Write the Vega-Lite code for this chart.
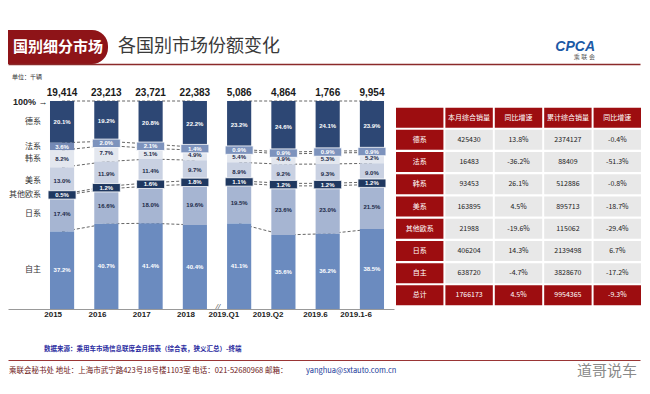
{
  "$schema": "https://vega.github.io/schema/vega-lite/v6.json",
  "background": "white",
  "padding": {"left": 8, "top": 30, "right": 9, "bottom": 0},
  "bounds": "flush",
  "spacing": 37,
  "config": {"font": "Liberation Sans, Noto Sans CJK SC", "view": {"stroke": null}},
  "datasets": {
    "header": [
      {"part": "tag", "text": "国别细分市场"},
      {"part": "title", "text": "各国别市场份额变化"}
    ],
    "shares": [
      {"period": "2015", "grp": "年度", "country": "德系", "rank": 7, "share": 0.201},
      {"period": "2015", "grp": "年度", "country": "法系", "rank": 6, "share": 0.036},
      {"period": "2015", "grp": "年度", "country": "韩系", "rank": 5, "share": 0.082},
      {"period": "2015", "grp": "年度", "country": "美系", "rank": 4, "share": 0.130},
      {"period": "2015", "grp": "年度", "country": "其他欧系", "rank": 3, "share": 0.005},
      {"period": "2015", "grp": "年度", "country": "日系", "rank": 2, "share": 0.174},
      {"period": "2015", "grp": "年度", "country": "自主", "rank": 1, "share": 0.372},
      {"period": "2016", "grp": "年度", "country": "德系", "rank": 7, "share": 0.192},
      {"period": "2016", "grp": "年度", "country": "法系", "rank": 6, "share": 0.020},
      {"period": "2016", "grp": "年度", "country": "韩系", "rank": 5, "share": 0.077},
      {"period": "2016", "grp": "年度", "country": "美系", "rank": 4, "share": 0.119},
      {"period": "2016", "grp": "年度", "country": "其他欧系", "rank": 3, "share": 0.012},
      {"period": "2016", "grp": "年度", "country": "日系", "rank": 2, "share": 0.166},
      {"period": "2016", "grp": "年度", "country": "自主", "rank": 1, "share": 0.407},
      {"period": "2017", "grp": "年度", "country": "德系", "rank": 7, "share": 0.208},
      {"period": "2017", "grp": "年度", "country": "法系", "rank": 6, "share": 0.021},
      {"period": "2017", "grp": "年度", "country": "韩系", "rank": 5, "share": 0.051},
      {"period": "2017", "grp": "年度", "country": "美系", "rank": 4, "share": 0.114},
      {"period": "2017", "grp": "年度", "country": "其他欧系", "rank": 3, "share": 0.016},
      {"period": "2017", "grp": "年度", "country": "日系", "rank": 2, "share": 0.180},
      {"period": "2017", "grp": "年度", "country": "自主", "rank": 1, "share": 0.414},
      {"period": "2018", "grp": "年度", "country": "德系", "rank": 7, "share": 0.222},
      {"period": "2018", "grp": "年度", "country": "法系", "rank": 6, "share": 0.014},
      {"period": "2018", "grp": "年度", "country": "韩系", "rank": 5, "share": 0.049},
      {"period": "2018", "grp": "年度", "country": "美系", "rank": 4, "share": 0.097},
      {"period": "2018", "grp": "年度", "country": "其他欧系", "rank": 3, "share": 0.018},
      {"period": "2018", "grp": "年度", "country": "日系", "rank": 2, "share": 0.196},
      {"period": "2018", "grp": "年度", "country": "自主", "rank": 1, "share": 0.404},
      {"period": "2019.Q1", "grp": "2019", "country": "德系", "rank": 7, "share": 0.232},
      {"period": "2019.Q1", "grp": "2019", "country": "法系", "rank": 6, "share": 0.009},
      {"period": "2019.Q1", "grp": "2019", "country": "韩系", "rank": 5, "share": 0.054},
      {"period": "2019.Q1", "grp": "2019", "country": "美系", "rank": 4, "share": 0.089},
      {"period": "2019.Q1", "grp": "2019", "country": "其他欧系", "rank": 3, "share": 0.011},
      {"period": "2019.Q1", "grp": "2019", "country": "日系", "rank": 2, "share": 0.195},
      {"period": "2019.Q1", "grp": "2019", "country": "自主", "rank": 1, "share": 0.411},
      {"period": "2019.Q2", "grp": "2019", "country": "德系", "rank": 7, "share": 0.246},
      {"period": "2019.Q2", "grp": "2019", "country": "法系", "rank": 6, "share": 0.009},
      {"period": "2019.Q2", "grp": "2019", "country": "韩系", "rank": 5, "share": 0.049},
      {"period": "2019.Q2", "grp": "2019", "country": "美系", "rank": 4, "share": 0.092},
      {"period": "2019.Q2", "grp": "2019", "country": "其他欧系", "rank": 3, "share": 0.012},
      {"period": "2019.Q2", "grp": "2019", "country": "日系", "rank": 2, "share": 0.236},
      {"period": "2019.Q2", "grp": "2019", "country": "自主", "rank": 1, "share": 0.356},
      {"period": "2019.6", "grp": "2019", "country": "德系", "rank": 7, "share": 0.241},
      {"period": "2019.6", "grp": "2019", "country": "法系", "rank": 6, "share": 0.009},
      {"period": "2019.6", "grp": "2019", "country": "韩系", "rank": 5, "share": 0.053},
      {"period": "2019.6", "grp": "2019", "country": "美系", "rank": 4, "share": 0.093},
      {"period": "2019.6", "grp": "2019", "country": "其他欧系", "rank": 3, "share": 0.012},
      {"period": "2019.6", "grp": "2019", "country": "日系", "rank": 2, "share": 0.230},
      {"period": "2019.6", "grp": "2019", "country": "自主", "rank": 1, "share": 0.362},
      {"period": "2019.1-6", "grp": "2019", "country": "德系", "rank": 7, "share": 0.239},
      {"period": "2019.1-6", "grp": "2019", "country": "法系", "rank": 6, "share": 0.009},
      {"period": "2019.1-6", "grp": "2019", "country": "韩系", "rank": 5, "share": 0.052},
      {"period": "2019.1-6", "grp": "2019", "country": "美系", "rank": 4, "share": 0.090},
      {"period": "2019.1-6", "grp": "2019", "country": "其他欧系", "rank": 3, "share": 0.012},
      {"period": "2019.1-6", "grp": "2019", "country": "日系", "rank": 2, "share": 0.215},
      {"period": "2019.1-6", "grp": "2019", "country": "自主", "rank": 1, "share": 0.385}
    ],
    "totals": [
      {"period": "2015", "total": "19,414"},
      {"period": "2016", "total": "23,213"},
      {"period": "2017", "total": "23,721"},
      {"period": "2018", "total": "22,383"},
      {"period": "2019.Q1", "total": "5,086"},
      {"period": "2019.Q2", "total": "4,864"},
      {"period": "2019.6", "total": "1,766"},
      {"period": "2019.1-6", "total": "9,954"}
    ],
    "table": [
      {"row": "hdr", "a": "", "b": "本月综合销量", "c": "同比增速", "d": "累计综合销量", "e": "同比增速"},
      {"row": "德系", "a": "德系", "b": "425430", "c": "13.8%", "d": "2374127", "e": "-0.4%"},
      {"row": "法系", "a": "法系", "b": "16483", "c": "-36.2%", "d": "88409", "e": "-51.3%"},
      {"row": "韩系", "a": "韩系", "b": "93453", "c": "26.1%", "d": "512886", "e": "-0.8%"},
      {"row": "美系", "a": "美系", "b": "163895", "c": "4.5%", "d": "895713", "e": "-18.7%"},
      {"row": "其他欧系", "a": "其他欧系", "b": "21988", "c": "-19.6%", "d": "115062", "e": "-29.4%"},
      {"row": "日系", "a": "日系", "b": "406204", "c": "14.3%", "d": "2139498", "e": "6.7%"},
      {"row": "自主", "a": "自主", "b": "638720", "c": "-4.7%", "d": "3828670", "e": "-17.2%"},
      {"row": "总计", "a": "总计", "b": "1766173", "c": "4.5%", "d": "9954365", "e": "-9.3%"}
    ],
    "footer": [
      {"part": "source", "line": "source", "side": "left", "text": "数据来源：乘用车市场信息联席会月报表（综合表，狭义汇总）-终端"},
      {"part": "contact", "line": "contact", "side": "left", "text": "乘联会秘书处   地址：上海市武宁路423号18号楼1103室   电话：021-52680968   邮箱："},
      {"part": "email", "line": "contact", "side": "left", "text": "yanghua@sxtauto.com.cn"},
      {"part": "mark", "line": "contact", "side": "right", "text": "道哥说车"}
    ]
  },
  "vconcat": [
    {
      "width": 632,
      "height": 34,
      "data": {"name": "header"},
      "title": {"text": "CPCA", "subtitle": "乘 联 会", "anchor": "end", "offset": -30, "dx": -45, "fontSize": 14, "fontStyle": "italic", "fontWeight": "bold", "color": "#1c5aa6", "subtitleFontSize": 6, "subtitleColor": "#555555", "subtitlePadding": 0},
      "encoding": {
        "x": {"field": "part", "type": "nominal", "scale": {"domain": ["tag", "title", "c", "d"], "paddingInner": 0.0909, "paddingOuter": 0.918, "align": 0},
              "axis": {"labels": false, "ticks": false, "title": null, "domain": true, "domainColor": "#8b2a2a", "domainWidth": 1.5, "grid": false}}
      },
      "layer": [
        {"transform": [{"filter": "datum.part === 'tag'"}], "mark": {"type": "rect", "color": "#8e1418", "cornerRadiusTopRight": 16, "cornerRadiusBottomRight": 16}},
        {"transform": [{"filter": "datum.part === 'tag'"}], "mark": {"type": "text", "color": "white", "fontSize": 15, "fontWeight": "bold", "font": "Noto Sans CJK SC"}, "encoding": {"text": {"field": "text"}}},
        {"transform": [{"filter": "datum.part === 'title'"}], "mark": {"type": "text", "align": "left", "color": "#3a3a3a", "fontSize": 18, "dx": 0, "font": "Noto Sans CJK SC"},
         "encoding": {"x": {"field": "part", "type": "nominal", "bandPosition": 0}, "text": {"field": "text"}}}
      ]
    },
    {
      "width": 633,
      "height": 208,
      "title": {"text": "单位：千辆", "anchor": "start", "fontSize": 6, "fontWeight": "normal", "color": "#333333", "offset": 8, "dx": 4, "font": "Noto Sans CJK SC"},
      "resolve": {"scale": {"x": "independent", "y": "independent"}, "axis": {"x": "independent", "y": "independent"}},
      "layer": [
        {
          "layer": [
            {
              "data": {"name": "shares"},
              "transform": [
                {"stack": "share", "groupby": ["period"], "sort": [{"field": "rank", "order": "ascending"}], "as": ["y0", "y1"], "offset": "normalize"},
                {"calculate": "(datum.y0 + datum.y1) / 2", "as": "ymid"}
              ],
              "layer": [
                {"mark": {"type": "line", "strokeDash": [3, 2], "color": "#555555", "strokeWidth": 0.9},
                 "encoding": {
                   "x": {"field": "period", "type": "nominal"},
                   "y": {"field": "y1", "type": "quantitative"},
                   "detail": [{"field": "country"}, {"field": "grp"}]
                 }},
                {"mark": {"type": "bar"},
                 "encoding": {
                   "x": {"field": "period", "type": "nominal",
                         "scale": {"domain": ["2015", "2016", "2017", "2018", "2019.Q1", "2019.Q2", "2019.6", "2019.1-6"], "range": [0, 386], "paddingInner": 0.4545, "paddingOuter": 0.587, "align": 0.808},
                         "axis": {"title": null, "labelAngle": 0, "labelFontSize": 8, "labelFontWeight": "bold", "labelColor": "#222222", "ticks": false, "domainColor": "#999999", "labelPadding": 5}},
                   "y": {"field": "y0", "type": "quantitative", "scale": {"domain": [0, 1], "nice": false},
                         "axis": {"values": [1], "labelExpr": "'100% →'", "title": null, "grid": false, "domain": false, "ticks": false, "offset": -41, "labelPadding": 2, "labelFontSize": 9, "labelFontWeight": "bold", "labelColor": "#222222"}},
                   "y2": {"field": "y1"},
                   "color": {"field": "country", "type": "nominal",
                             "scale": {"domain": ["德系", "法系", "韩系", "美系", "其他欧系", "日系", "自主"], "range": ["#2d4774", "#7489b5", "#e3e7ef", "#c9d1e2", "#233a63", "#a6b5d2", "#6b8bbf"]},
                             "legend": null}
                 }},
                {"transform": [{"filter": "datum.country === '其他欧系' || (datum.country === '法系' && datum.share < 0.025)"}],
                 "mark": {"type": "point", "shape": "M-1,-0.3H1V0.3H-1Z", "filled": true, "size": 784, "stroke": "white", "strokeWidth": 0.8, "opacity": 1},
                 "encoding": {
                   "x": {"field": "period", "type": "nominal"},
                   "y": {"field": "ymid", "type": "quantitative"},
                   "fill": {"condition": {"test": "datum.country === '其他欧系'", "value": "#1f3860"}, "value": "#7d93bd"}
                 }},
                {"mark": {"type": "text", "fontSize": 6, "fontWeight": "bold"},
                 "encoding": {
                   "x": {"field": "period", "type": "nominal"},
                   "y": {"field": "ymid", "type": "quantitative"},
                   "text": {"field": "share", "type": "quantitative", "format": ".1%"},
                   "color": {"condition": {"test": "datum.country === '韩系' || datum.country === '美系' || datum.country === '日系'", "value": "#1c2a48"}, "value": "white"}
                 }},
                {"transform": [{"filter": "datum.period === '2015'"}],
                 "mark": {"type": "text", "fontSize": 8, "align": "right", "dx": -21, "color": "#333333", "font": "Noto Sans CJK SC"},
                 "encoding": {
                   "x": {"field": "period", "type": "nominal"},
                   "y": {"field": "ymid", "type": "quantitative"},
                   "text": {"field": "country"}
                 }}
              ]
            },
            {
              "data": {"name": "totals"},
              "mark": {"type": "text", "fontSize": 10, "fontWeight": "bold", "color": "#1a1a1a", "dy": -8},
              "encoding": {
                "x": {"field": "period", "type": "nominal"},
                "y": {"datum": 1, "type": "quantitative"},
                "text": {"field": "total"}
              }
            },
            {
              "data": {"values": [{"period": "2018"}]},
              "mark": {"type": "text", "fontSize": 8, "color": "#555555", "dx": 23, "dy": -2, "text": "//", "fontStyle": "italic"},
              "encoding": {
                "x": {"field": "period", "type": "nominal"},
                "y": {"datum": 0, "type": "quantitative"}
              }
            }
          ]
        },
        {
          "data": {"name": "table"},
          "transform": [{"fold": ["a", "b", "c", "d", "e"], "as": ["col", "text"]}],
          "encoding": {
            "x": {"field": "col", "type": "nominal", "scale": {"domain": ["a", "b", "c", "d", "e"], "range": [388, 633], "paddingInner": 0.04, "paddingOuter": 0}, "axis": null},
            "y": {"field": "row", "type": "nominal", "scale": {"domain": ["hdr", "德系", "法系", "韩系", "美系", "其他欧系", "日系", "自主", "总计"], "range": [0, 211], "paddingInner": 0.1, "paddingOuter": 0.3}, "axis": null}
          },
          "layer": [
            {"mark": {"type": "rect"},
             "encoding": {"color": {"condition": {"test": "datum.row === 'hdr' || datum.row === '总计' || datum.col === 'a'", "value": "#9d0d10"}, "value": "#e8e8e8"}}},
            {"mark": {"type": "text", "fontSize": 7, "font": "Noto Sans CJK SC"},
             "encoding": {"text": {"field": "text"},
                          "color": {"condition": {"test": "datum.row === 'hdr' || datum.row === '总计' || datum.col === 'a'", "value": "white"}, "value": "#222222"}}}
          ]
        }
      ]
    },
    {
      "width": 632,
      "height": 14,
      "data": {"name": "footer"},
      "encoding": {
        "x": {"field": "side", "type": "nominal", "scale": {"type": "point", "domain": ["left", "right"], "range": [0, 632], "padding": 0},
              "axis": {"labels": false, "ticks": false, "title": null, "domainColor": "#9a3535", "domainWidth": 1, "grid": false}},
        "y": {"field": "line", "type": "nominal", "scale": {"type": "point", "domain": ["source", "contact"], "range": [3, 25], "padding": 0}, "axis": null},
        "text": {"field": "text"}
      },
      "layer": [
        {"transform": [{"filter": "datum.part === 'source'"}], "mark": {"type": "text", "align": "left", "dx": 36, "fontSize": 6.5, "color": "#2b2ba0", "fontWeight": "bold", "font": "Noto Sans CJK SC"}},
        {"transform": [{"filter": "datum.part === 'contact'"}], "mark": {"type": "text", "align": "left", "dx": 1, "fontSize": 7.5, "color": "#6b1515", "font": "Noto Sans CJK SC"}},
        {"transform": [{"filter": "datum.part === 'email'"}], "mark": {"type": "text", "align": "left", "dx": 298, "fontSize": 7.5, "color": "#1a3a9a", "font": "Noto Sans CJK SC"}},
        {"transform": [{"filter": "datum.part === 'mark'"}], "mark": {"type": "text", "align": "right", "dx": -3, "fontSize": 15, "color": "#8a8a8a", "font": "Noto Sans CJK SC"}}
      ]
    }
  ]
}
